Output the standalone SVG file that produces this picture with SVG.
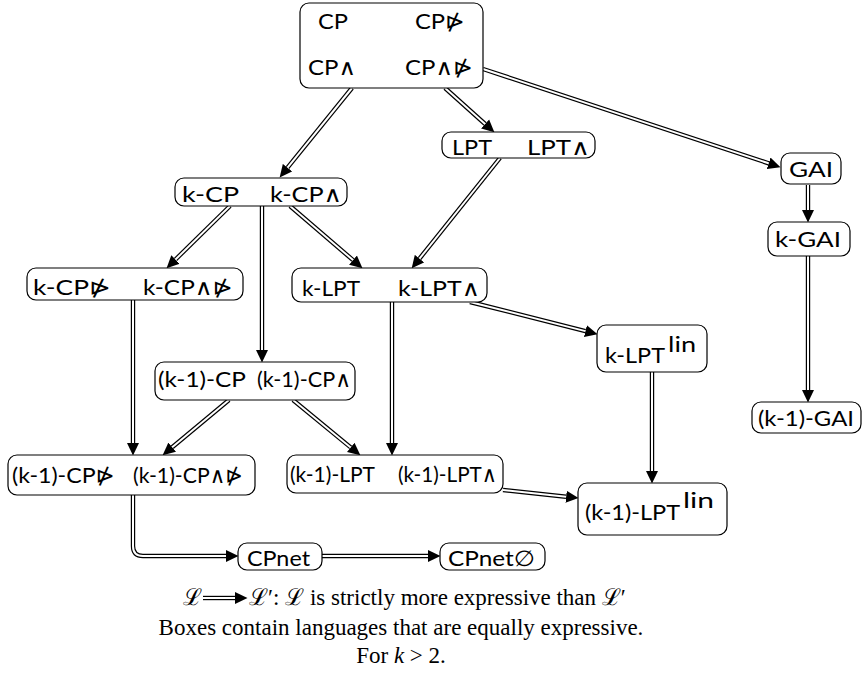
<svg xmlns="http://www.w3.org/2000/svg" width="868" height="690" viewBox="0 0 868 690">
<style>
.box{fill:#fff;stroke:#000;stroke-width:1.2}
.t{font-family:Lato,"DejaVu Sans",sans-serif;font-size:22px;fill:#000}
.sup{font-family:Lato,"DejaVu Sans",sans-serif;font-size:21px;fill:#000}
.o{fill:none;stroke:#000;stroke-width:4.4;marker-end:url(#ah)}
.i{fill:none;stroke:#fff;stroke-width:2}
.cap{font-family:"Liberation Serif",serif;font-size:23px;fill:#000}
</style>
<defs>
<marker id="ah" markerUnits="userSpaceOnUse" markerWidth="13" markerHeight="13" refX="0" refY="6" orient="auto" viewBox="0 0 13 12">
<path d="M0,0 L12.5,6 L0,12 z" fill="#000"/>
</marker>
</defs>
<rect width="868" height="690" fill="#fff"/>
<g id="connectors">
<path class="o" d="M352,88 L287.5,167.7"/><path class="i" d="M352,88 L287.5,167.7"/>
<path class="o" d="M445,88 L485.1,124"/><path class="i" d="M445,88 L485.1,124"/>
<path class="o" d="M483,69 L768.6,163.3"/><path class="i" d="M483,69 L768.6,163.3"/>
<path class="o" d="M500,158 L419.5,258.6"/><path class="i" d="M500,158 L419.5,258.6"/>
<path class="o" d="M230,206 L175.5,259.5"/><path class="i" d="M230,206 L175.5,259.5"/>
<path class="o" d="M262,206 L262,350"/><path class="i" d="M262,206 L262,350"/>
<path class="o" d="M290,206 L353,260.1"/><path class="i" d="M290,206 L353,260.1"/>
<path class="o" d="M392,302 L392,443"/><path class="i" d="M392,302 L392,443"/>
<path class="o" d="M470,302 L585.4,331.1"/><path class="i" d="M470,302 L585.4,331.1"/>
<path class="o" d="M133,300 L133,443"/><path class="i" d="M133,300 L133,443"/>
<path class="o" d="M229,400 L172.2,447.2"/><path class="i" d="M229,400 L172.2,447.2"/>
<path class="o" d="M293,400 L350.7,447.4"/><path class="i" d="M293,400 L350.7,447.4"/>
<path class="o" d="M652,372 L652,471"/><path class="i" d="M652,372 L652,471"/>
<path class="o" d="M503,490 L566.1,496.7"/><path class="i" d="M503,490 L566.1,496.7"/>
<path class="o" d="M133,495 V546 Q133,556 143,556 H226"/><path class="i" d="M133,495 V546 Q133,556 143,556 H226"/>
<path class="o" d="M322,556 H428"/><path class="i" d="M322,556 H428"/>
<path class="o" d="M808,185 V210"/><path class="i" d="M808,185 V210"/>
<path class="o" d="M808,256 V390"/><path class="i" d="M808,256 V390"/>
</g>
<g id="n-cp">
<rect class="box" x="300" y="3" width="183" height="85" rx="9"/>
<text class="t" x="318" y="29" textLength="30" lengthAdjust="spacingAndGlyphs">CP</text><text class="t" x="415" y="29" textLength="50" lengthAdjust="spacingAndGlyphs">CP⋫</text>
<text class="t" x="308" y="75" textLength="48" lengthAdjust="spacingAndGlyphs">CP∧</text><text class="t" x="405" y="75" textLength="68" lengthAdjust="spacingAndGlyphs">CP∧⋫</text>
</g>
<g id="n-lpt">
<rect class="box" x="442" y="132" width="153" height="26" rx="9"/>
<text class="t" x="452" y="155" textLength="40" lengthAdjust="spacingAndGlyphs">LPT</text><text class="t" x="527" y="155" textLength="63" lengthAdjust="spacingAndGlyphs">LPT∧</text>
</g>
<g id="n-gai">
<rect class="box" x="781" y="153" width="60" height="31" rx="9"/>
<text class="t" x="789" y="177" textLength="44" lengthAdjust="spacingAndGlyphs">GAI</text>
</g>
<g id="n-kcp">
<rect class="box" x="175" y="178" width="172" height="28" rx="9"/>
<text class="t" x="182" y="202" textLength="57" lengthAdjust="spacingAndGlyphs">k-CP</text><text class="t" x="270" y="202" textLength="72" lengthAdjust="spacingAndGlyphs">k-CP∧</text>
</g>
<g id="n-kgai">
<rect class="box" x="768" y="222" width="82" height="34" rx="9"/>
<text class="t" x="775" y="247" textLength="66" lengthAdjust="spacingAndGlyphs">k-GAI</text>
</g>
<g id="n-kcpn">
<rect class="box" x="27" y="268" width="216" height="32" rx="9"/>
<text class="t" x="33" y="295" textLength="78" lengthAdjust="spacingAndGlyphs">k-CP⋫</text><text class="t" x="143" y="295" textLength="90" lengthAdjust="spacingAndGlyphs">k-CP∧⋫</text>
</g>
<g id="n-klpt">
<rect class="box" x="292" y="268" width="195" height="34" rx="9"/>
<text class="t" x="302" y="296" textLength="58" lengthAdjust="spacingAndGlyphs">k-LPT</text><text class="t" x="398" y="296" textLength="82" lengthAdjust="spacingAndGlyphs">k-LPT∧</text>
</g>
<g id="n-klptlin">
<rect class="box" x="597" y="325" width="110" height="47" rx="9"/>
<text class="t" x="605" y="363" textLength="60" lengthAdjust="spacingAndGlyphs">k-LPT</text><text class="sup" x="668" y="352" textLength="28" lengthAdjust="spacingAndGlyphs">lin</text>
</g>
<g id="n-k1cp">
<rect class="box" x="155" y="362" width="200" height="38" rx="9"/>
<text class="t" x="158" y="387" textLength="88" lengthAdjust="spacingAndGlyphs">(k-1)-CP</text><text class="t" x="257" y="387" textLength="94" lengthAdjust="spacingAndGlyphs">(k-1)-CP∧</text>
</g>
<g id="n-k1gai">
<rect class="box" x="752" y="402" width="109" height="31" rx="9"/>
<text class="t" x="758" y="426" textLength="96" lengthAdjust="spacingAndGlyphs">(k-1)-GAI</text>
</g>
<g id="n-k1cpn">
<rect class="box" x="8" y="455" width="247" height="40" rx="9"/>
<text class="t" x="12" y="483" textLength="103" lengthAdjust="spacingAndGlyphs">(k-1)-CP⋫</text><text class="t" x="133" y="483" textLength="110" lengthAdjust="spacingAndGlyphs">(k-1)-CP∧⋫</text>
</g>
<g id="n-k1lpt">
<rect class="box" x="287" y="455" width="216" height="38" rx="9"/>
<text class="t" x="290" y="482" textLength="85" lengthAdjust="spacingAndGlyphs">(k-1)-LPT</text><text class="t" x="398" y="482" textLength="99" lengthAdjust="spacingAndGlyphs">(k-1)-LPT∧</text>
</g>
<g id="n-k1lptlin">
<rect class="box" x="578" y="483" width="149" height="52" rx="9"/>
<text class="t" x="585" y="520" textLength="95" lengthAdjust="spacingAndGlyphs">(k-1)-LPT</text><text class="sup" x="683" y="508" textLength="31" lengthAdjust="spacingAndGlyphs">lin</text>
</g>
<g id="n-cpnet">
<rect class="box" x="238" y="543" width="84" height="27" rx="9"/>
<text class="t" x="247" y="566" textLength="63" lengthAdjust="spacingAndGlyphs">CPnet</text>
</g>
<g id="n-cpnet0">
<rect class="box" x="440" y="543" width="105" height="27" rx="9"/>
<text class="t" x="448" y="566" textLength="87" lengthAdjust="spacingAndGlyphs">CPnet∅</text>
</g>
<g id="legend">
<text class="cap" x="183" y="605">ℒ</text>
<path class="o" d="M203,598 H235"/><path class="i" d="M203,598 H235"/>
<text class="cap" x="249" y="605">ℒ′: ℒ is strictly more expressive than ℒ′</text>
<text class="cap" x="401" y="635" text-anchor="middle">Boxes contain languages that are equally expressive.</text>
<text class="cap" x="401" y="663" text-anchor="middle">For <tspan font-style="italic">k</tspan> &gt; 2.</text>
</g>
</svg>
